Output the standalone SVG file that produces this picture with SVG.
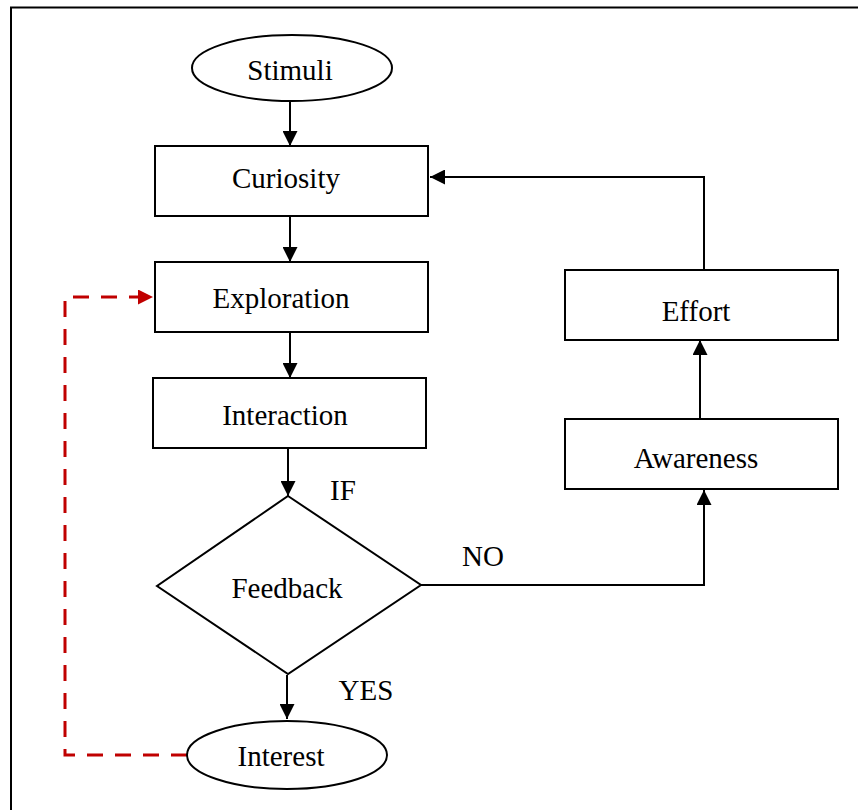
<svg xmlns="http://www.w3.org/2000/svg" width="858" height="810" viewBox="0 0 858 810">
<style>
.box{fill:#fff;stroke:#000;stroke-width:2}
.t{font-family:"Liberation Serif","Times New Roman",serif;font-size:29px;fill:#000;text-anchor:middle}
.c{fill:none;stroke:#000;stroke-width:2}
.r{fill:none;stroke:#c00000;stroke-width:3;stroke-dasharray:16 12}
</style>
<defs>
<marker id="ah" viewBox="0 0 10 10" refX="10" refY="5" markerWidth="15" markerHeight="15" markerUnits="userSpaceOnUse" orient="auto"><path d="M0,0 L10,5 L0,10 z" fill="#000"/></marker>
<marker id="ahr" viewBox="0 0 10 10" refX="10" refY="5" markerWidth="15" markerHeight="15" markerUnits="userSpaceOnUse" orient="auto"><path d="M0,0 L10,5 L0,10 z" fill="#c00000"/></marker>
</defs>
<rect x="0" y="0" width="858" height="810" fill="#fff"/>
<rect x="11" y="7.5" width="900" height="900" fill="none" stroke="#000" stroke-width="2"/>
<g id="connectors">
<line class="c" x1="290" y1="101" x2="290" y2="146" marker-end="url(#ah)"/>
<line class="c" x1="290" y1="216" x2="290" y2="262" marker-end="url(#ah)"/>
<line class="c" x1="290" y1="332" x2="290" y2="378" marker-end="url(#ah)"/>
<line class="c" x1="288" y1="448" x2="288" y2="496" marker-end="url(#ah)"/>
<line class="c" x1="287" y1="675" x2="287" y2="719" marker-end="url(#ah)"/>
<polyline class="c" points="421,585 704,585 704,490" marker-end="url(#ah)"/>
<line class="c" x1="700" y1="419" x2="700" y2="340" marker-end="url(#ah)"/>
<polyline class="c" points="704,272 704,177 430,177" marker-end="url(#ah)"/>
<polyline class="r" points="187,755 65,755 65,297 153,297" marker-end="url(#ahr)"/>
</g>
<g id="stimuli"><ellipse class="box" cx="292" cy="68" rx="100" ry="33"/><text class="t" x="290" y="80">Stimuli</text></g>
<g id="curiosity"><rect class="box" x="155" y="146" width="273" height="70"/><text class="t" x="286" y="188">Curiosity</text></g>
<g id="exploration"><rect class="box" x="155" y="262" width="273" height="70"/><text class="t" x="281" y="308">Exploration</text></g>
<g id="interaction"><rect class="box" x="153" y="378" width="273" height="70"/><text class="t" x="285" y="425">Interaction</text></g>
<g id="feedback"><polygon class="box" points="288,496 421,585 288,674 157,586"/><text class="t" x="287" y="598">Feedback</text></g>
<g id="interest"><ellipse class="box" cx="287" cy="755" rx="100" ry="34"/><text class="t" x="281" y="766">Interest</text></g>
<g id="effort"><rect class="box" x="565" y="270" width="273" height="70"/><text class="t" x="696" y="321">Effort</text></g>
<g id="awareness"><rect class="box" x="565" y="419" width="273" height="70"/><text class="t" x="696" y="468">Awareness</text></g>
<g id="labels">
<text class="t" x="343" y="500">IF</text>
<text class="t" x="483" y="566">NO</text>
<text class="t" x="366" y="700">YES</text>
</g>
</svg>
